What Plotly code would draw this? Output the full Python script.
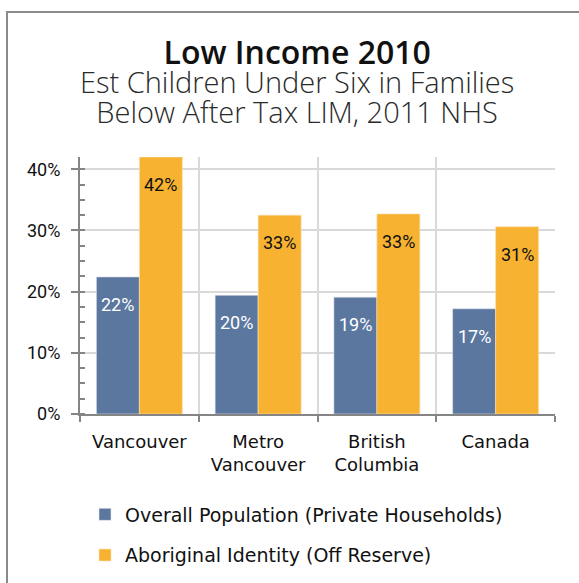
import plotly.graph_objects as go

categories = ["Vancouver", "Metro<br>Vancouver", "British<br>Columbia", "Canada"]
overall_values = [0.224, 0.194, 0.191, 0.172]
aboriginal_values = [0.42, 0.325, 0.327, 0.306]
overall_labels = ["22%", "20%", "19%", "17%"]
aboriginal_labels = ["42%", "33%", "33%", "31%"]
series_names = ["Overall Population (Private Households)", "Aboriginal Identity (Off Reserve)"]
y_ticks = [0, 0.1, 0.2, 0.3, 0.4]
y_tick_labels = ["0%", "10%", "20%", "30%", "40%"]
title_text = "Low Income 2010"
subtitle_lines = ["Est Children Under Six in Families", "Below After Tax LIM, 2011 NHS"]

BLUE = "#5b779f"
ORANGE = "#f7b232"
W, H = 579, 583
L, R, T, B = 80, 24, 157, 169
BARGAP = 0.276

fig = go.Figure()
fig.add_trace(go.Bar(x=categories, y=overall_values, name=series_names[0],
                     marker=dict(color=BLUE, line=dict(color="#dfe4ec", width=0.6)),
                     legendgroup="a"))
fig.add_trace(go.Bar(x=categories, y=aboriginal_values, name=series_names[1],
                     marker=dict(color=ORANGE, line=dict(color="#fbe3b4", width=0.6)),
                     legendgroup="b"))

off = (1 - BARGAP) / 4
annotations = []
for i in range(len(categories)):
    annotations.append(dict(x=i - off, y=overall_values[i], xref="x", yref="y",
                            text=overall_labels[i], showarrow=False, yanchor="top",
                            yshift=-15, font=dict(family="Roboto", size=18, color="white")))
    annotations.append(dict(x=i + off, y=aboriginal_values[i], xref="x", yref="y",
                            text=aboriginal_labels[i], showarrow=False, yanchor="top",
                            yshift=-15, font=dict(family="Roboto", size=18, color="#111111")))

pw = W - L - R
ph = H - T - B
def px(xp):
    return (xp - L) / pw
def py(yp):
    return (H - B - yp) / ph

header = ("<span style='font-size:32px;font-weight:600;color:#111111'>" + title_text + "</span><br>"
          + "<br>".join("<span style='font-size:29px;font-weight:300;color:#2a2a2a'>" + s + "</span>"
                        for s in subtitle_lines))
annotations.append(dict(x=px(296.5), y=py(80.5), xref="paper", yref="paper",
                        text=header, showarrow=False, xanchor="center", yanchor="middle",
                        align="center",
                        font=dict(family="Open Sans", size=22.5, color="#2a2a2a")))

fig.update_layout(
    width=W, height=H,
    margin=dict(l=L, r=R, t=T, b=B, autoexpand=False),
    paper_bgcolor="white", plot_bgcolor="white",
    barmode="group", bargap=BARGAP, bargroupgap=0,
    annotations=annotations,
    showlegend=True,
    legend=dict(xref="container", yref="container", x=85 / W, y=1 - 495.5 / H,
                xanchor="left", yanchor="top",
                orientation="v", traceorder="grouped", tracegroupgap=13,
                font=dict(family="DejaVu Sans", size=19, color="#111111"),
                bgcolor="rgba(0,0,0,0)"),
    shapes=[dict(type="rect", xref="paper", yref="paper",
                 x0=px(7), x1=px(W + 20), y0=py(H + 20), y1=py(12),
                 line=dict(color="#8a8a8a", width=2), fillcolor="rgba(0,0,0,0)", layer="below")],
)

fig.update_xaxes(
    type="category", showline=True, linecolor="#858585", linewidth=2,
    ticks="outside", ticklen=6, tickcolor="#858585", tickwidth=2, tickson="boundaries",
    ticklabelstandoff=10, automargin=False,
    showgrid=True, gridcolor="#d9d9d9", gridwidth=2,
    tickfont=dict(family="DejaVu Sans", size=18, color="#111111"),
)
fig.update_yaxes(
    range=[0, 0.42], tickvals=y_ticks, ticktext=y_tick_labels,
    showline=True, linecolor="#858585", linewidth=2,
    ticks="outside", ticklen=7, tickcolor="#858585", tickwidth=2,
    ticklabelstandoff=7, automargin=False,
    minor=dict(ticks="inside", ticklen=5, dtick=0.025, tickcolor="#858585", tickwidth=2, showgrid=False),
    showgrid=True, gridcolor="#d9d9d9", gridwidth=2, zeroline=False,
    tickfont=dict(family="Roboto", size=18, color="#111111"),
)

fig.write_html("out.html")
